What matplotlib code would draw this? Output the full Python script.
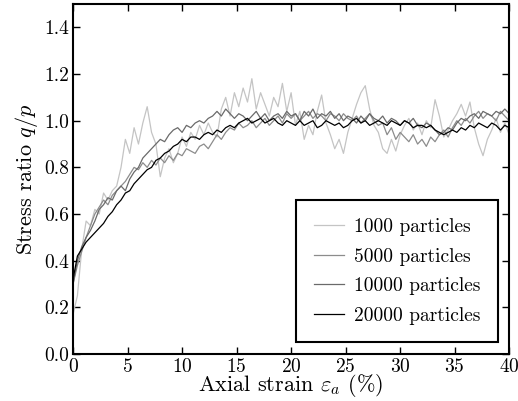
"""Stress ratio q/p contro deformazione assiale per diverse dimensioni del campione."""
import numpy as np
import matplotlib
matplotlib.use("Agg")
import matplotlib.pyplot as plt

plt.rcParams["font.family"] = "serif"
plt.rcParams["font.serif"] = ["cmr10", "DejaVu Serif"]
plt.rcParams["mathtext.fontset"] = "cm"
plt.rcParams["axes.formatter.use_mathtext"] = True

# deformazione assiale (%) campionata ogni 0.4
strain = np.linspace(0, 40, 101)

q_p_1000 = [
    0.17, 0.25, 0.45, 0.57, 0.55, 0.62, 0.60, 0.69, 0.66, 0.70,
    0.72, 0.80, 0.92, 0.86, 0.97, 0.90, 0.99, 1.06, 0.95, 0.90,
    0.76, 0.84, 0.88, 0.82, 0.86, 0.93, 0.89, 0.95, 0.92, 0.98,
    0.94, 0.99, 0.95, 0.93, 1.05, 1.10, 1.02, 1.12, 1.06, 1.14,
    1.08, 1.18, 1.05, 1.12, 1.07, 1.02, 1.10, 1.06, 1.16, 1.04,
    1.12, 0.98, 1.04, 0.92, 0.98, 0.94, 1.04, 1.11, 0.99, 0.94,
    0.88, 0.92, 0.86, 0.95, 1.01, 1.07, 1.12, 1.15, 1.05, 0.98,
    0.95, 0.88, 0.86, 0.92, 0.87, 0.94, 0.98, 1.01, 0.96, 0.99,
    0.94, 1.00, 0.97, 1.09, 1.02, 0.93, 0.96, 1.00, 1.03, 1.07,
    1.02, 1.08, 0.97, 0.90, 0.85, 0.92, 0.96, 1.01, 0.95, 0.99,
    0.94,
]
q_p_5000 = [
    0.30, 0.38, 0.44, 0.50, 0.55, 0.60, 0.63, 0.66, 0.64, 0.68,
    0.70, 0.72, 0.74, 0.77, 0.80, 0.79, 0.82, 0.80, 0.83, 0.81,
    0.84, 0.82, 0.85, 0.83, 0.86, 0.85, 0.88, 0.87, 0.86, 0.89,
    0.90, 0.88, 0.91, 0.94, 0.92, 0.95, 0.97, 0.96, 0.99, 0.97,
    0.98, 1.00, 0.97, 0.99, 1.01, 0.98, 1.00, 1.02, 0.99, 1.03,
    1.01, 1.03, 1.00, 1.02, 1.04, 1.01, 1.03, 1.02, 1.00, 1.03,
    1.02, 1.00, 1.03, 1.01, 1.00, 1.02, 0.99, 1.01, 1.03, 1.00,
    0.98, 0.99, 0.94, 0.97, 0.92, 0.95, 0.93, 0.91, 0.94, 0.90,
    0.92, 0.89, 0.93, 0.91, 0.94, 0.96, 0.93, 0.97, 1.00, 0.98,
    1.01, 0.99, 1.02, 1.04, 1.01, 1.03, 1.02, 1.00, 1.04, 1.02,
    1.00,
]
q_p_10000 = [
    0.30, 0.40, 0.46, 0.50, 0.53, 0.57, 0.62, 0.64, 0.67, 0.66,
    0.70, 0.72, 0.70, 0.75, 0.78, 0.80, 0.84, 0.86, 0.88, 0.90,
    0.92, 0.91, 0.94, 0.96, 0.97, 0.95, 0.98, 0.97, 0.99, 1.00,
    0.99, 1.01, 1.02, 1.04, 1.02, 1.05, 1.03, 1.01, 1.03, 1.02,
    1.00, 1.02, 1.04, 1.01, 1.03, 1.00, 1.02, 1.03, 1.01, 1.04,
    1.02, 1.03, 1.00, 1.04, 1.02, 1.05, 1.01, 1.03, 1.02, 1.04,
    1.01, 1.03, 1.00, 1.02, 1.01, 0.99, 1.02, 1.00, 1.03, 1.01,
    1.00, 1.02, 0.99, 1.01, 1.00, 0.98, 1.00, 0.99, 1.01, 0.98,
    0.97, 0.99, 0.98, 0.96, 0.94, 0.95, 0.97, 0.96, 0.99, 1.01,
    1.00, 1.02, 1.03, 1.01, 1.04, 1.03, 1.02, 1.04, 1.03, 1.05,
    1.03,
]
q_p_20000 = [
    0.32, 0.42, 0.45, 0.48, 0.50, 0.52, 0.54, 0.56, 0.59, 0.61,
    0.64, 0.66, 0.69, 0.70, 0.73, 0.75, 0.77, 0.79, 0.80, 0.83,
    0.84, 0.86, 0.87, 0.89, 0.90, 0.92, 0.91, 0.93, 0.93, 0.92,
    0.94, 0.95, 0.94, 0.96, 0.95, 0.97, 0.98, 0.97, 0.99, 1.00,
    1.01, 0.99, 1.00, 1.01, 0.99, 1.00, 1.01, 0.99, 0.98, 1.00,
    0.99, 0.98, 1.00, 0.98, 0.99, 1.00, 0.97, 0.98, 1.00, 0.99,
    0.98, 0.99, 0.97, 0.98, 1.00, 1.01, 0.99, 1.00, 0.98, 0.99,
    1.00, 0.99, 0.98, 1.00, 0.99, 0.98, 1.00, 0.99, 0.97, 0.98,
    0.98, 0.97, 0.98, 0.96, 0.95, 0.94, 0.95, 0.96, 0.95, 0.97,
    0.96, 0.98, 0.97, 0.99, 0.98, 0.97, 0.99, 0.98, 0.96, 0.98,
    0.97,
]

series = [q_p_1000, q_p_5000, q_p_10000, q_p_20000]
labels = ["1000 particles", "5000 particles", "10000 particles", "20000 particles"]
colors = ["#c4c4c4", "#8c8c8c", "#6a6a6a", "#000000"]

fig = plt.figure(figsize=(5.18, 4.01), dpi=100)
ax = fig.add_axes([0.141, 0.117, 0.842, 0.873])

for vals, lab, col in zip(series, labels, colors):
    ax.plot(strain, vals, color=col, lw=0.9, label=lab)

ax.set_xlim(0, 40)
ax.set_ylim(0, 1.5)
ax.set_xticks([0, 5, 10, 15, 20, 25, 30, 35, 40])
ax.set_yticks([0.0, 0.2, 0.4, 0.6, 0.8, 1.0, 1.2, 1.4])
ax.set_yticklabels(["0.0", "0.2", "0.4", "0.6", "0.8", "1.0", "1.2", "1.4"])
ax.tick_params(direction="in", length=5, width=1, top=True, right=True,
               labelsize=14, pad=3)
for s in ax.spines.values():
    s.set_linewidth(1.5)

ax.set_xlabel(r"Axial strain $\varepsilon_a$ (%)", fontsize=16, labelpad=-3)
ax.set_ylabel(r"Stress ratio $q/p$", fontsize=16, labelpad=3)

leg = ax.legend(loc="lower right", fontsize=14, fancybox=False, framealpha=1,
                edgecolor="black", handlelength=1.55, handletextpad=0.5,
                borderpad=0.9, labelspacing=0.6, borderaxespad=0.6)
leg.get_frame().set_linewidth(1.5)

fig.savefig("out.png", dpi=100)
